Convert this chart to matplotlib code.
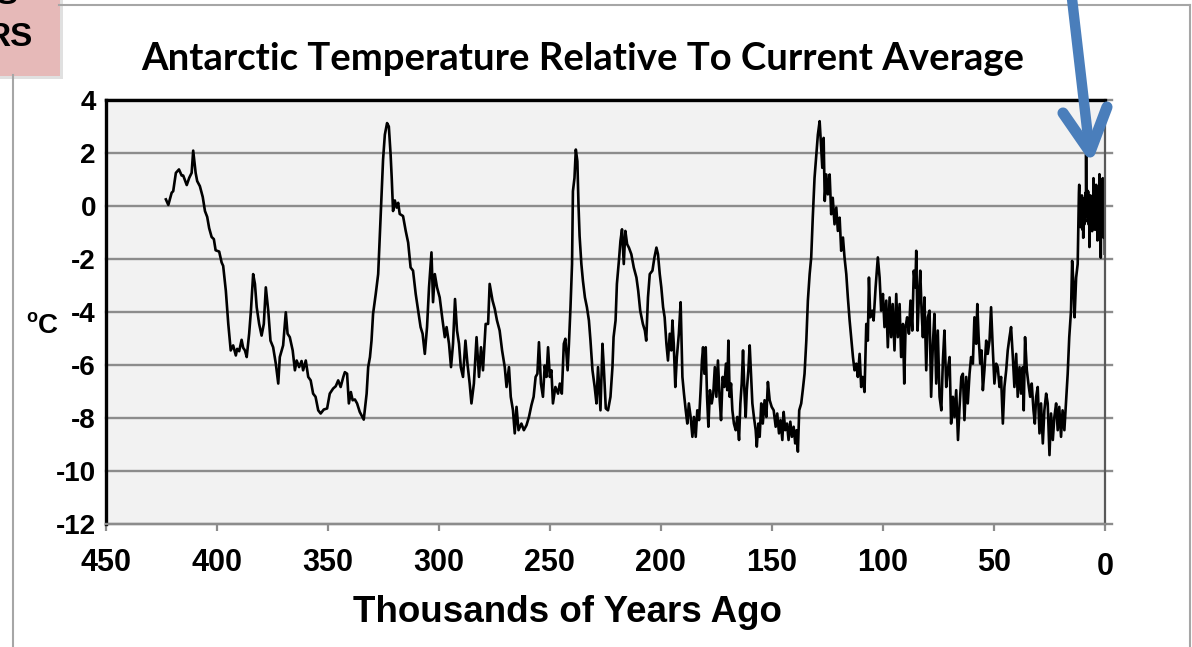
import matplotlib
matplotlib.use("Agg")
import matplotlib.pyplot as plt
from matplotlib.lines import Line2D
from matplotlib.patches import Rectangle
from matplotlib.transforms import ScaledTranslation

# ---------------- data ----------------
age_kyr = [
    422.9, 421.8, 420.3, 419.6, 418.4, 417.0, 415.8, 415.1, 413.5, 412.4, 411.3, 410.6, 409.5, 408.8,
    407.6, 406.3, 405.3, 404.3, 403.4, 402.3, 401.3, 400.5, 398.9, 397.8, 397.1, 395.9, 394.8, 393.7,
    392.6, 391.4, 390.8, 389.9, 388.8, 388.1, 387.3, 386.5, 385.4, 384.6, 383.6, 382.8, 382.0, 380.9,
    379.8, 378.8, 377.9, 376.8, 375.8, 374.6, 373.4, 372.3, 371.6, 370.1, 368.9, 368.1, 367.1, 365.8,
    364.8, 364.0, 362.9, 361.8, 361.1, 359.9, 358.8, 357.7, 356.6, 355.5, 354.3, 353.2, 351.8, 350.3,
    349.1, 347.6, 346.4, 345.3, 344.2, 343.0, 342.3, 341.3, 340.5, 339.6, 338.8, 337.8, 336.8, 335.6,
    333.8, 332.5, 331.8, 331.0, 330.3, 329.6, 328.4, 327.3, 326.6, 325.8, 325.1, 324.3, 323.3, 322.5,
    321.7, 321.2, 320.6, 319.8, 319.0, 318.3, 317.6, 316.1, 314.9, 313.8, 312.7, 311.6, 310.4, 309.3,
    308.2, 307.3, 306.3, 305.3, 304.4, 303.3, 302.6, 301.8, 300.8, 299.6, 298.3, 297.3, 296.5, 295.4,
    294.5, 293.6, 292.7, 291.8, 290.9, 290.1, 289.1, 288.0, 287.1, 286.1, 285.3, 284.2, 283.0, 281.9,
    281.0, 280.1, 278.9, 277.8, 277.1, 275.8, 274.8, 273.8, 272.6, 271.5, 270.3, 269.5, 268.4, 267.6,
    266.6, 265.8, 265.0, 264.1, 262.8, 261.7, 260.5, 259.4, 258.3, 257.3, 256.4, 255.6, 254.9, 254.0,
    253.1, 252.3, 251.5, 250.8, 250.0, 249.3, 248.6, 247.5, 246.3, 245.5, 244.6, 243.7, 243.0, 242.0,
    241.4, 240.7, 240.0, 239.6, 238.9, 238.3, 237.6, 237.1, 236.6, 235.8, 235.1, 234.2, 233.3, 232.4,
    231.7, 230.8, 229.8, 229.0, 228.3, 227.2, 226.3, 225.7, 224.8, 223.8, 222.7, 221.8, 221.3, 220.4,
    219.8, 218.9, 218.2, 217.5, 216.7, 216.0, 215.2, 214.4, 213.3, 212.2, 211.0, 210.2, 209.3, 208.1,
    207.2, 206.6, 205.8, 205.0, 203.8, 202.9, 202.0, 201.3, 200.5, 199.8, 199.0, 198.3, 197.5, 196.8,
    196.0, 195.3, 194.8, 194.2, 193.5, 192.8, 191.9, 191.1, 190.3, 189.6, 188.8, 188.1, 187.4, 186.6,
    185.8, 185.1, 184.3, 183.6, 182.8, 182.1, 181.5, 181.0, 180.4, 179.8, 179.2, 178.6, 177.9, 177.1,
    176.4, 175.7, 175.0, 174.3, 173.5, 172.9, 172.2, 171.4, 170.7, 170.1, 169.6, 169.0, 168.4, 167.8,
    167.1, 166.3, 165.6, 164.8, 164.2, 163.6, 163.0, 162.4, 161.8, 161.3, 160.6, 160.0, 159.5, 158.8,
    158.1, 157.3, 156.8, 156.1, 155.5, 154.8, 154.1, 153.3, 152.5, 151.8, 151.0, 150.1, 149.2, 148.3,
    147.6, 146.8, 146.1, 145.3, 144.7, 144.0, 143.2, 142.5, 141.7, 141.0, 140.2, 139.5, 138.9, 138.3,
    137.7, 136.8, 136.1, 135.3, 134.5, 133.8, 133.0, 132.3, 131.6, 130.8, 130.0, 129.3, 128.5, 127.9,
    127.3, 126.7, 126.2, 125.5, 124.8, 124.0, 123.3, 122.6, 121.8, 121.0, 120.3, 119.5, 118.8, 118.0,
    117.3, 116.5, 115.8, 115.0, 114.3, 113.5, 112.8, 112.0, 111.3, 110.5, 109.8, 109.1, 108.3, 107.5,
    106.8, 106.3, 105.7, 104.8, 104.2, 103.3, 102.3, 101.5, 100.8, 100.0, 99.3, 98.5, 97.8, 97.0,
    96.3, 95.6, 94.8, 94.0, 93.3, 92.5, 91.8, 91.0, 90.4, 89.8, 89.1, 88.3, 87.6, 86.8,
    86.1, 85.4, 85.0, 84.4, 83.8, 83.2, 82.6, 82.0, 81.3, 80.5, 79.8, 79.0, 78.3, 77.5,
    76.8, 76.0, 75.3, 74.5, 73.7, 73.0, 72.3, 71.5, 70.8, 70.0, 69.3, 68.5, 67.8, 67.0,
    66.2, 65.5, 64.7, 64.0, 63.3, 62.5, 61.8, 61.0, 60.3, 59.5, 58.8, 58.0, 57.5, 56.9,
    56.2, 55.6, 55.0, 54.3, 53.5, 52.8, 52.0, 51.3, 50.5, 49.8, 49.0, 48.3, 47.5, 46.8,
    46.0, 45.3, 44.5, 43.8, 43.0, 42.3, 41.5, 40.8, 40.0, 39.3, 38.5, 37.8, 37.0, 36.6,
    36.0, 35.2, 34.5, 33.7, 33.0, 32.2, 31.6, 31.0, 30.3, 29.5, 28.8, 28.0, 27.3, 26.5,
    25.8, 25.0, 24.3, 23.5, 22.8, 22.0, 21.3, 20.6, 19.8, 19.1, 18.3, 17.6, 16.8, 16.1,
    15.3, 14.8, 14.2, 13.7, 13.0, 12.3,
]
temp_c = [
    0.25, 0.04, 0.5, 0.56, 1.25, 1.38, 1.15, 1.15, 0.79, 1.06, 1.25, 2.09, 1.25, 0.94,
    0.75, 0.34, -0.19, -0.41, -0.84, -1.17, -1.25, -1.67, -1.72, -2.13, -2.26, -3.2, -4.45, -5.45,
    -5.26, -5.64, -5.39, -5.48, -5.05, -5.35, -5.45, -5.7, -4.82, -3.95, -2.57, -2.94, -3.82, -4.45,
    -4.89, -4.45, -3.07, -3.95, -5.08, -5.33, -5.95, -6.7, -5.7, -5.26, -4.01, -4.82, -4.95, -5.45,
    -6.2, -5.83, -6.08, -5.85, -6.2, -5.83, -6.45, -6.58, -7.08, -7.2, -7.71, -7.83, -7.68, -7.64,
    -7.08, -6.89, -6.8, -6.58, -6.83, -6.45, -6.27, -6.33, -7.45, -7.02, -7.33, -7.3, -7.45, -7.77,
    -8.06, -7.08, -6.08, -5.7, -5.08, -4.07, -3.32, -2.57, -1.19, 0.44, 1.75, 2.69, 3.13, 3.0,
    1.94, 1.06, -0.19, 0.21, -0.06, 0.12, -0.3, -0.38, -0.94, -1.38, -2.32, -2.44, -3.32, -3.95,
    -4.57, -4.82, -5.58, -4.57, -3.07, -1.75, -3.63, -2.57, -3.07, -3.45, -4.32, -4.95, -4.57, -5.2,
    -6.08, -5.2, -3.51, -4.7, -5.2, -6.08, -6.45, -5.08, -5.95, -6.7, -7.45, -6.7, -4.95, -6.45,
    -5.33, -6.2, -4.45, -4.45, -2.94, -3.57, -3.88, -4.32, -4.7, -5.45, -6.08, -6.83, -6.08, -7.2,
    -7.71, -8.58, -7.58, -8.46, -8.21, -8.46, -8.27, -7.96, -7.52, -7.2, -6.45, -6.33, -5.14, -6.7,
    -7.2, -6.02, -6.45, -5.33, -6.45, -6.2, -7.45, -6.83, -7.08, -6.7, -7.08, -5.2, -5.01, -6.2,
    -5.2, -3.82, -2.19, 0.56, 1.06, 2.13, 1.69, 0.06, -1.13, -2.19, -2.82, -3.45, -3.82, -4.32,
    -5.08, -6.2, -6.83, -7.45, -6.08, -7.71, -5.2, -6.08, -7.64, -7.71, -7.2, -6.08, -4.95, -4.32,
    -2.94, -2.07, -1.32, -0.88, -2.19, -0.94, -1.44, -1.57, -1.82, -2.32, -2.7, -3.2, -3.95, -4.45,
    -4.7, -5.08, -3.45, -2.57, -2.44, -1.94, -1.57, -1.82, -2.57, -3.07, -3.82, -4.2, -5.2, -5.83,
    -4.82, -5.45, -4.32, -5.2, -6.83, -5.7, -4.82, -3.63, -6.45, -7.08, -7.71, -8.21, -7.45, -7.96,
    -8.71, -7.96, -8.71, -7.71, -8.08, -6.95, -5.83, -5.33, -6.33, -5.33, -7.2, -8.33, -6.95, -7.45,
    -7.08, -6.08, -7.2, -5.83, -7.33, -8.08, -6.45, -6.83, -5.95, -6.95, -5.08, -7.2, -6.7, -7.71,
    -8.21, -8.46, -7.96, -8.83, -7.45, -6.7, -5.45, -6.95, -7.96, -6.95, -6.2, -5.26, -6.2, -7.45,
    -7.96, -8.46, -9.08, -8.21, -8.71, -7.45, -8.21, -7.33, -7.96, -6.64, -7.33, -7.58, -7.71, -8.33,
    -7.83, -8.58, -8.08, -8.83, -7.77, -8.46, -8.21, -8.83, -8.14, -8.71, -8.33, -8.96, -8.46, -9.27,
    -7.71, -7.45, -6.95, -6.33, -5.08, -3.57, -2.57, -1.94, -0.44, 1.06, 1.94, 2.69, 3.2, 2.32,
    1.44, 2.57, 0.19, 1.19, 0.44, 1.19, -0.31, 0.31, -0.69, -0.06, -0.94, -0.44, -1.69, -1.19,
    -1.94, -2.57, -3.45, -4.32, -4.95, -5.7, -6.2, -5.95, -6.45, -5.58, -6.83, -6.45, -7.02, -4.45,
    -5.08, -2.7, -4.2, -3.95, -4.32, -3.07, -1.94, -2.7, -3.95, -3.32, -4.57, -3.57, -5.33, -3.45,
    -4.95, -3.7, -5.45, -3.32, -4.95, -3.7, -5.7, -4.45, -6.7, -4.57, -4.2, -4.82, -3.57, -4.7,
    -2.44, -3.07, -1.69, -4.7, -3.45, -2.44, -3.95, -4.95, -3.45, -6.2, -4.2, -3.95, -7.2, -5.2,
    -4.07, -6.7, -4.7, -7.2, -7.71, -5.83, -4.7, -6.83, -6.2, -5.7, -8.21, -7.2, -7.96, -6.95,
    -8.83, -7.58, -6.45, -6.33, -8.08, -6.45, -7.45, -6.33, -5.7, -5.95, -4.2, -5.2, -3.7, -4.95,
    -5.95, -5.45, -6.95, -6.2, -5.08, -5.58, -5.08, -3.82, -5.45, -6.7, -5.95, -6.08, -6.83, -6.45,
    -8.21, -6.83, -6.2, -5.45, -4.95, -4.57, -5.7, -6.83, -5.58, -7.2, -6.08, -7.08, -6.08, -7.71,
    -4.95, -6.2, -6.7, -7.2, -6.7, -7.71, -8.21, -7.2, -6.83, -8.58, -7.45, -8.96, -7.71, -7.08,
    -7.45, -9.4, -7.83, -8.83, -7.96, -7.45, -8.46, -7.58, -8.71, -7.71, -8.46, -7.45, -6.33, -4.95,
    -3.95, -2.07, -2.94, -4.2, -2.7, -2.19,
]

# Holocene (last ~12 kyr): dense, noisy band between about -2 and +2 C
holocene_age_kyr = [
    11.9, 11.75, 11.6, 11.45, 11.3, 11.15, 11.0, 10.85, 10.7, 10.55, 10.4, 10.25, 10.1, 9.95,
    9.8, 9.65, 9.5, 9.35, 9.2, 9.05, 8.9, 8.75, 8.6, 8.5, 8.35, 8.2, 8.05, 7.9,
    7.75, 7.6, 7.45, 7.3, 7.15, 7.0, 6.85, 6.7, 6.55, 6.4, 6.25, 6.1, 5.95, 5.8,
    5.65, 5.5, 5.35, 5.2, 5.05, 4.9, 4.75, 4.6, 4.45, 4.3, 4.15, 4.0, 3.85, 3.7,
    3.55, 3.4, 3.25, 3.1, 2.95, 2.8, 2.65, 2.5, 2.35, 2.2, 2.05, 1.9, 1.8, 1.7,
    1.6, 1.5, 1.35, 1.2, 1.1, 1.0, 0.9, 0.8, 0.7, 0.6, 0.5, 0.4, 0.3, 0.2, 0.1,
]
holocene_temp_c = [
    -0.2, 0.5, 0.8, -0.3, -0.5, 0.2, -0.8, 0.1, 0.3, -0.6, 0.4, -0.2, -0.9, 0.3,
    -1.2, -0.1, 0.1, -0.7, 0.3, -0.4, -0.6, 0.5, -0.3, 1.95, -0.2, 0.05, 0.6, -0.4,
    0.2, 0.55, -0.5, -0.7, 0.1, -1.55, -0.3, -0.2, 0.4, 0.05, -0.8, -0.6, 0.3, -0.95,
    -0.1, 0.2, -0.6, 1.05, -0.2, -0.3, 0.5, -0.45, -0.9, 0.4, -0.3, 0.8, -0.1, -0.6,
    0.2, -1.3, -0.4, 0.3, -0.7, -0.2, 0.5, 1.2, -0.3, -0.8, 0.2, -1.95, -0.9, -0.5,
    0.3, -0.2, -1.0, 0.6, -0.3, 1.05, -0.4, -0.9, 0.4, -1.2, -0.2, 0.3, -0.8, -0.5, -1.8,
]

x_ticks = [450, 400, 350, 300, 250, 200, 150, 100, 50, 0]
y_ticks = [4, 2, 0, -2, -4, -6, -8, -10, -12]

title_text = "Antarctic Temperature Relative To Current Average"
x_label = "Thousands of Years Ago"

# ---------------- figure ----------------
W, H = 1192, 647
fig = plt.figure(figsize=(W / 100, H / 100), dpi=100)
fig.patch.set_facecolor("white")


def fx(px):
    return px / W


def fy(py):
    return 1 - py / H


ax_l, ax_r, ax_t, ax_b = 105.7, 1105.0, 100.0, 524.0
ax = fig.add_axes([fx(ax_l), fy(ax_b), fx(ax_r - ax_l), (ax_b - ax_t) / H])
ax.set_facecolor("#f2f2f2")

grid_col = "#8c8c8c"
for yv in y_ticks:
    ax.axhline(yv, xmin=0, xmax=1.007, color=grid_col, lw=1.7, zorder=1, clip_on=False)

ax.plot(age_kyr + holocene_age_kyr, temp_c + holocene_temp_c, color="black", lw=1.9,
        zorder=3, solid_joinstyle="round")

ax.set_xlim(450, 0)
ax.set_ylim(-12, 4)
ax.set_xticks(x_ticks)
ax.set_yticks(y_ticks)
ax.set_xticklabels([str(v) for v in x_ticks])
ax.set_yticklabels([str(v) for v in y_ticks])

for lbl in ax.get_xticklabels():
    lbl.set_fontfamily("Liberation Sans")
    lbl.set_fontweight("bold")
    lbl.set_fontsize(22)
for lbl in ax.get_yticklabels():
    lbl.set_fontfamily("Liberation Sans")
    lbl.set_fontweight("bold")
    lbl.set_fontsize(20)

ax.tick_params(axis="x", direction="out", length=5, width=1.6, color=grid_col, pad=12)
ax.tick_params(axis="y", length=0, pad=7)

ax.spines["left"].set_color("black")
ax.spines["left"].set_linewidth(2.4)
ax.spines["top"].set_color("black")
ax.spines["top"].set_linewidth(2.4)
ax.spines["right"].set_color("#595959")
ax.spines["right"].set_linewidth(1.6)
ax.spines["bottom"].set_color(grid_col)
ax.spines["bottom"].set_linewidth(1.7)
for s in ax.spines.values():
    s.set_zorder(4)

# the "0" tick label sits a little lower in the reference
for lbl in ax.get_xticklabels():
    if lbl.get_text() == "0":
        lbl.set_transform(lbl.get_transform() + ScaledTranslation(0, -4 / 100, fig.dpi_scale_trans))

# titles / labels
fig.text(fx(583), fy(59), title_text, ha="center", va="center",
         fontsize=27.5, fontweight="bold", family="Lato", color="black")
fig.text(fx(567), fy(612), x_label, ha="center", va="center",
         fontsize=26.5, fontweight="bold", family="Liberation Sans", color="black")
fig.text(fx(58), fy(326), "C", ha="right", va="center",
         fontsize=20, fontweight="bold", family="Liberation Sans", color="black")
fig.text(fx(37), fy(318), "o", ha="right", va="center",
         fontsize=13, fontweight="bold", family="Liberation Sans", color="black")

# outer chart border
border_col = "#a6a6a6"
fig.add_artist(Line2D([fx(59), fx(1190)], [fy(4.5), fy(4.5)], color=border_col, lw=1.5))
fig.add_artist(Line2D([fx(1190), fx(1190)], [fy(4.5), fy(647)], color=border_col, lw=1.5))
fig.add_artist(Line2D([fx(13), fx(13)], [fy(75), fy(647)], color=border_col, lw=1.5))

# pink label box (partially visible, as in the reference) with soft shadow
fig.add_artist(Rectangle((fx(0), fy(79)), fx(63), 79 / H, facecolor="#d9d9d9",
                         edgecolor="none", alpha=0.8))
fig.add_artist(Rectangle((fx(0), fy(76)), fx(59.5), 76 / H, facecolor="#e6b9b8",
                         edgecolor="none"))
fig.text(fx(33), fy(38), "RS", ha="right", va="center", fontsize=24,
         fontweight="bold", family="Liberation Sans", color="black")
fig.text(fx(17), fy(4), "S", ha="right", va="baseline", fontsize=24,
         fontweight="bold", family="Liberation Sans", color="black")

# blue arrow
arrow_col = "#4a7ebb"
fig.add_artist(Line2D([fx(1071), fx(1089.5)], [fy(-10), fy(150)], color=arrow_col, lw=7.5,
                      solid_capstyle="round"))
fig.add_artist(Line2D([fx(1063), fx(1090), fx(1107)], [fy(113), fy(152), fy(107)],
                      color=arrow_col, lw=8, solid_capstyle="round", solid_joinstyle="round"))

fig.savefig("out.png", dpi=100, facecolor="white")
